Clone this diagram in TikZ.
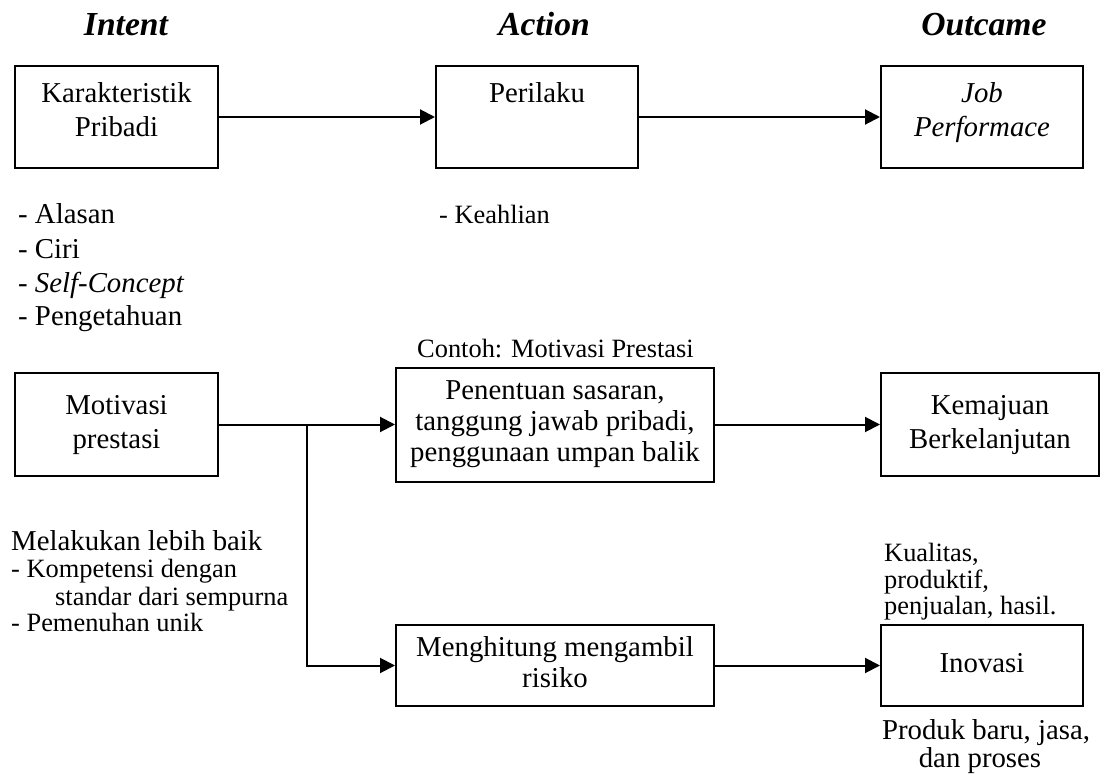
\documentclass[tikz,border=0pt]{standalone}
\usepackage{fontspec}
\setmainfont{Liberation Serif}
\usetikzlibrary{arrows.meta}
\begin{document}
\begin{tikzpicture}[x=1pt,y=-1pt,
  box/.style={draw, line width=2pt, inner sep=0pt, align=center, text depth=6pt,
    font=\fontsize{28.8}{34}\selectfont},
  toprow/.style={text depth=14pt},
  widebox/.style={font=\fontsize{28.8}{31}\selectfont},
  conn/.style={line width=2pt, -{Triangle[length=15pt,width=15pt]}},
  big/.style={inner sep=0pt, anchor=base west, font=\fontsize{28.8}{34}\selectfont},
  small/.style={inner sep=0pt, anchor=base west, font=\fontsize{26.4}{28}\selectfont},
  ttl/.style={inner sep=0pt, anchor=base, font=\fontsize{33.6}{40}\selectfont\bfseries\itshape}]
\useasboundingbox (0,0) rectangle (1104,776);

% titles
\node[ttl] (tI) at (126,36) {Intent};
\node[ttl] (tA) at (544,36) {Action};
\node[ttl] (tO) at (984,36) {Outcame};

% row 1
\node[box, toprow, minimum width=203pt, minimum height=102pt] (kp) at (116.5,117) {Karakteristik\\Pribadi};
\node[box, toprow, minimum width=202pt, minimum height=102pt] (pl) at (537,117) {Perilaku\\\mbox{}};
\node[box, toprow, minimum width=202pt, minimum height=102pt] (jp) at (982,117) {\textit{Job}\\\textit{Performace}};
\draw[conn] (kp) -- (pl);
\draw[conn] (pl) -- (jp);

% lists
\node[big] (l1) at (18,223) {- Alasan};
\node[big] (l2) at (18,258) {- Ciri};
\node[big] (l3) at (18,292) {- \textit{Self-Concept}};
\node[big] (l4) at (18,325) {- Pengetahuan};
\node[small] (kh) at (439,223) {- Keahlian};
\node[small] (ct) at (417,357) {Contoh: Motivasi Prestasi};

% row 2
\node[box, minimum width=203pt, minimum height=103pt] (mp) at (116.5,424.5) {Motivasi\\prestasi};
\node[box, widebox, minimum width=318pt, minimum height=114pt] (ps) at (555,424.5) {Penentuan sasaran,\\tanggung jawab pribadi,\\penggunaan umpan balik};
\node[box, minimum width=218pt, minimum height=103pt] (kb) at (990,424.5) {Kemajuan\\Berkelanjutan};
\draw[conn] (mp) -- (ps);
\draw[conn] (ps) -- (kb);

% row 3
\node[box, widebox, minimum width=318pt, minimum height=81pt] (mh) at (555,665.5) {Menghitung mengambil\\risiko};
\node[box, minimum width=202pt, minimum height=81pt] (in) at (982,665.5) {Inovasi};
\coordinate (jn) at (307,424.5);
\draw[conn] (jn) |- (mh);
\draw[conn] (mh) -- (in);

% left notes
\node[big] (ml) at (11,550) {Melakukan lebih baik};
\node[small] (k1) at (11,577) {- Kompetensi dengan};
\node[small] (k2) at (55,605) {standar dari sempurna};
\node[small] (k3) at (11,631) {- Pemenuhan unik};

% right notes
\node[small] (q1) at (884,561) {Kualitas,};
\node[small] (q2) at (884,588) {produktif,};
\node[small] (q3) at (884,614) {penjualan, hasil.};
\node[big, anchor=base] (pb1) at (986,739) {Produk baru, jasa,};
\node[big, anchor=base] (pb2) at (980,767) {dan proses};
\end{tikzpicture}
\end{document}
